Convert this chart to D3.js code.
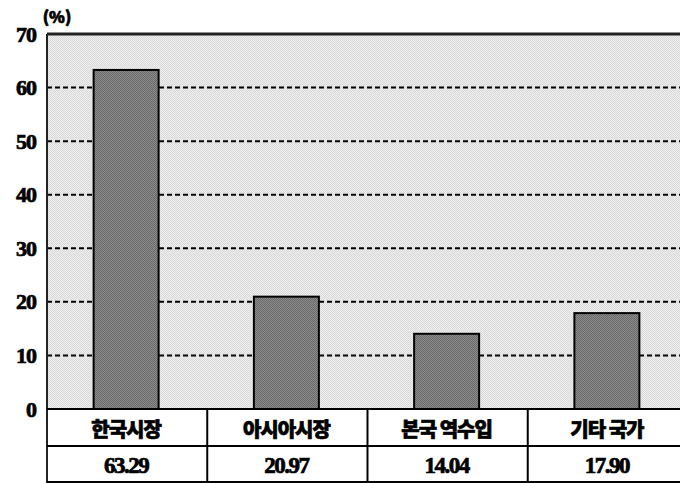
<!DOCTYPE html>
<html>
<head>
<meta charset="utf-8">
<script src="https://cdn.jsdelivr.net/npm/d3@7"></script>
<style>
  body { margin: 0; background: #fff; }
  svg text { font-family: "Noto Sans CJK KR", sans-serif; font-weight: 900; fill: #000; stroke: #000; stroke-width: 0.7px; }
</style>
</head>
<body>
<svg width="680" height="483"></svg>
<script>
const categories = ['한국시장', '아시아시장', '본국 역수입', '기타 국가'];
const values = [63.29, 20.97, 14.04, 17.90];
const valueLabels = ['63.29', '20.97', '14.04', '17.90'];
const yTicks = [0, 10, 20, 30, 40, 50, 60, 70];

const $svg = d3.select('svg');
const plotLeft = 47, plotRight = 688, plotTop = 34, plotBottom = 409;
const rowSplit = 446, tableBottom = 483;

const x = d3.scaleBand().domain(categories).range([plotLeft, plotRight]).paddingInner(0).paddingOuter(0);
const y = d3.scaleLinear().domain([0, 70]).range([plotBottom, plotTop]);
const barW = 65;

// dithered fills
const defs = $svg.append('defs');
function dither(id, a, b) {
  const p = defs.append('pattern').attr('id', id)
    .attr('width', 2).attr('height', 2).attr('patternUnits', 'userSpaceOnUse');
  p.append('rect').attr('width', 2).attr('height', 2).attr('fill', a);
  p.append('rect').attr('width', 1).attr('height', 1).attr('fill', b);
  p.append('rect').attr('x', 1).attr('y', 1).attr('width', 1).attr('height', 1).attr('fill', b);
}
dither('bg', '#efefef', '#d8d8d8');
dither('bar', '#8c8c8c', '#6a6a6a');

// plot background
$svg.append('rect')
  .attr('x', plotLeft).attr('y', plotTop)
  .attr('width', plotRight - plotLeft).attr('height', plotBottom - plotTop)
  .attr('fill', 'url(#bg)');

// dashed grid
$svg.append('g').selectAll('line')
  .data(yTicks.filter(d => d > 0 && d < 70))
  .enter().append('line')
    .attr('x1', plotLeft).attr('x2', plotRight)
    .attr('y1', d => y(d)).attr('y2', d => y(d))
    .attr('stroke', '#000').attr('stroke-width', 2)
    .attr('stroke-dasharray', '5,3');

// bars
$svg.append('g').selectAll('rect')
  .data(values)
  .enter().append('rect')
    .attr('x', (d, i) => x(categories[i]) + x.bandwidth() / 2 - barW / 2 - 1)
    .attr('y', d => y(d))
    .attr('width', barW)
    .attr('height', d => y(0) - y(d))
    .attr('fill', 'url(#bar)')
    .attr('stroke', '#000').attr('stroke-width', 2);

// frame
$svg.append('line').attr('x1', plotLeft).attr('x2', plotRight).attr('y1', plotTop).attr('y2', plotTop)
  .attr('stroke', '#222').attr('stroke-width', 3);
$svg.append('line').attr('x1', plotLeft).attr('x2', plotLeft).attr('y1', plotTop).attr('y2', tableBottom)
  .attr('stroke', '#222').attr('stroke-width', 2);

// y axis labels
const yAxis = d3.axisLeft(y).tickValues(yTicks).tickSize(0).tickPadding(11);
const gy = $svg.append('g').attr('transform', `translate(${plotLeft},0)`).call(yAxis);
gy.select('.domain').remove();
gy.selectAll('text')
  .style('font-family', '"Liberation Serif", serif')
  .style('font-weight', 'bold')
  .style('font-size', '22px')
  .style('letter-spacing', '-1px');

$svg.append('text').attr('x', 57).attr('y', 23)
  .attr('text-anchor', 'middle')
  .style('font-size', '16px')
  .text('(%)');

// table
const table = $svg.append('g');
table.append('line').attr('x1', plotLeft).attr('x2', plotRight).attr('y1', plotBottom).attr('y2', plotBottom)
  .attr('stroke', '#000').attr('stroke-width', 2);
table.append('line').attr('x1', plotLeft).attr('x2', plotRight).attr('y1', rowSplit).attr('y2', rowSplit)
  .attr('stroke', '#000').attr('stroke-width', 2);
table.append('line').attr('x1', plotLeft).attr('x2', plotRight).attr('y1', tableBottom - 1).attr('y2', tableBottom - 1)
  .attr('stroke', '#000').attr('stroke-width', 2);
table.selectAll('.col')
  .data(categories.slice(1))
  .enter().append('line')
    .attr('x1', d => x(d)).attr('x2', d => x(d))
    .attr('y1', plotBottom).attr('y2', tableBottom)
    .attr('stroke', '#000').attr('stroke-width', 2);

table.selectAll('.cat')
  .data(categories)
  .enter().append('text')
    .attr('x', d => x(d) + x.bandwidth() / 2 - 1)
    .attr('y', 428)
    .attr('text-anchor', 'middle')
    .attr('dominant-baseline', 'central')
    .style('font-size', '20px')
    .style('letter-spacing', '-1px')
    .text(d => d);

table.selectAll('.val')
  .data(valueLabels)
  .enter().append('text')
    .attr('x', (d, i) => x(categories[i]) + x.bandwidth() / 2 - 1)
    .attr('y', 465)
    .attr('text-anchor', 'middle')
    .attr('dominant-baseline', 'central')
    .style('font-family', '"Liberation Serif", serif')
    .style('font-weight', 'bold')
    .style('font-size', '23px')
    .style('letter-spacing', '-1.5px')
    .text(d => d);
</script>
</body>
</html>
